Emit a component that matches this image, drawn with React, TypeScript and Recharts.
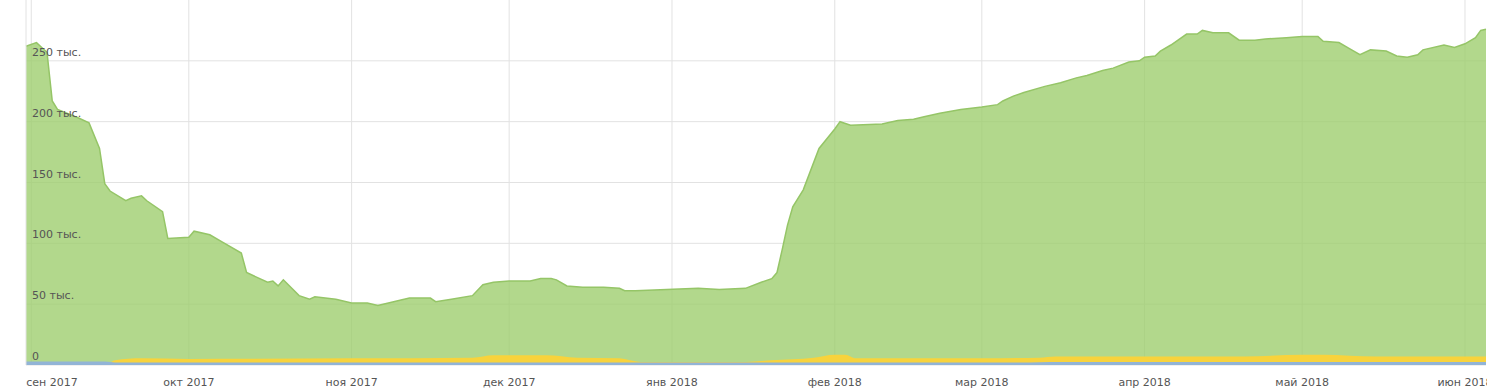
import { AreaChart, Area, XAxis, YAxis, CartesianGrid, ReferenceLine } from 'recharts';

// main series (thousands)
const visitDates = [
  '2017-08-31', '2017-09-02', '2017-09-03', '2017-09-04', '2017-09-05', '2017-09-06', '2017-09-10', '2017-09-12',
  '2017-09-14', '2017-09-15', '2017-09-16', '2017-09-19', '2017-09-20', '2017-09-22', '2017-09-23', '2017-09-26',
  '2017-09-27', '2017-10-01', '2017-10-02', '2017-10-05', '2017-10-07', '2017-10-11', '2017-10-12', '2017-10-16',
  '2017-10-17', '2017-10-18', '2017-10-19', '2017-10-22', '2017-10-24', '2017-10-25', '2017-10-29', '2017-11-01',
  '2017-11-04', '2017-11-06', '2017-11-08', '2017-11-12', '2017-11-16', '2017-11-17', '2017-11-20', '2017-11-24',
  '2017-11-26', '2017-11-28', '2017-12-01', '2017-12-05', '2017-12-07', '2017-12-09', '2017-12-10', '2017-12-12',
  '2017-12-15', '2017-12-19', '2017-12-22', '2017-12-23', '2017-12-25', '2017-12-31', '2018-01-06', '2018-01-10',
  '2018-01-15', '2018-01-18', '2018-01-20', '2018-01-21', '2018-01-22', '2018-01-23', '2018-01-24', '2018-01-26',
  '2018-01-29', '2018-02-01', '2018-02-02', '2018-02-04', '2018-02-10', '2018-02-13', '2018-02-16', '2018-02-18',
  '2018-02-21', '2018-02-25', '2018-03-01', '2018-03-04', '2018-03-05', '2018-03-07', '2018-03-09', '2018-03-13',
  '2018-03-16', '2018-03-19', '2018-03-21', '2018-03-24', '2018-03-26', '2018-03-29', '2018-03-31', '2018-04-01',
  '2018-04-03', '2018-04-04', '2018-04-06', '2018-04-09', '2018-04-11', '2018-04-12', '2018-04-14', '2018-04-17',
  '2018-04-19', '2018-04-22', '2018-04-24', '2018-04-28', '2018-05-01', '2018-05-04', '2018-05-05', '2018-05-08',
  '2018-05-10', '2018-05-12', '2018-05-14', '2018-05-17', '2018-05-19', '2018-05-21', '2018-05-23', '2018-05-24',
  '2018-05-28', '2018-05-30', '2018-06-01', '2018-06-03', '2018-06-04', '2018-06-05',
];
const visitValues = [
  262, 265, 261, 257, 217, 210, 203, 199,
  178, 149, 143, 135, 137, 139, 135, 126,
  104, 105, 110, 107, 102, 92, 76, 68,
  69, 65, 70, 57, 54, 56, 54, 51,
  51, 49, 51, 55, 55, 52, 54, 57,
  66, 68, 69, 69, 71, 71, 70, 65,
  64, 64, 63, 61, 61, 62, 63, 62,
  63, 68, 71, 76, 95, 115, 130, 144,
  178, 194, 200, 197, 198, 201, 202, 204,
  207, 210, 212, 214, 217, 221, 224, 229,
  232, 236, 238, 242, 244, 249, 250, 253,
  254, 258, 263, 272, 272, 275, 273, 273,
  267, 267, 268, 269, 270, 270, 266, 265,
  260, 255, 259, 258, 254, 253, 255, 259,
  263, 261, 264, 269, 275, 276,
];

// yellow band
const yellowDates = [
  '2017-08-31', '2017-09-15', '2017-09-17', '2017-09-22', '2017-10-01', '2017-11-01', '2017-11-24', '2017-11-28',
  '2017-12-08', '2017-12-14', '2017-12-22', '2017-12-26', '2018-01-15', '2018-01-20', '2018-01-28', '2018-02-01',
  '2018-02-03', '2018-02-05', '2018-03-01', '2018-03-12', '2018-03-15', '2018-04-20', '2018-05-01', '2018-05-05',
  '2018-05-15', '2018-06-05',
];
const yellowValues = [
  0, 0, 4, 5.5, 5, 5.5, 6, 8,
  8, 6, 5.5, 2.5, 2.5, 4, 6, 8.5,
  8.5, 5.5, 5.5, 6, 7, 7, 8.5, 8.5,
  7, 7,
];

// blue band
const blueDates = ['2017-08-31', '2017-09-15', '2017-09-17', '2018-03-10', '2018-03-14', '2018-06-05'];
const blueValues = [2.8, 2.8, 2, 2, 2.5, 2.5];

const monthTicks = [
  '2017-09-01', '2017-10-01', '2017-11-01', '2017-12-01', '2018-01-01',
  '2018-02-01', '2018-03-01', '2018-04-01', '2018-05-01', '2018-06-01',
];
const monthLabels = [
  'сен 2017', 'окт 2017', 'ноя 2017', 'дек 2017', 'янв 2018',
  'фев 2018', 'мар 2018', 'апр 2018', 'май 2018', 'июн 2018',
];
const yTicks = [0, 50000, 100000, 150000, 200000, 250000];
const yLabels = ['0', '50 тыс.', '100 тыс.', '150 тыс.', '200 тыс.', '250 тыс.'];

const base = Date.UTC(2017, 7, 31);
const toDay = (s: string) => {
  const [y, m, d] = s.split('-').map(Number);
  return Math.round((Date.UTC(y, m - 1, d) - base) / 86400000);
};

const rows: Record<number, any> = {};
const put = (dates: string[], vals: number[], key: string) => {
  dates.forEach((d, i) => {
    const day = toDay(d);
    if (!rows[day]) rows[day] = { day, visits: null, yellow: null, blue: null };
    rows[day][key] = vals[i] * 1000;
  });
};
put(visitDates, visitValues, 'visits');
put(yellowDates, yellowValues, 'yellow');
put(blueDates, blueValues, 'blue');
const data = Object.values(rows).sort((a, b) => a.day - b.day);

const tickDays = monthTicks.map(toDay);
const font = { fontFamily: '"DejaVu Sans", Verdana, sans-serif', fontSize: 11, fill: '#555' };

const XTick = (props: any) => {
  const { x, y, payload, index } = props;
  const i = tickDays.indexOf(payload.value);
  return (
    <text x={index === 0 ? x - 5 : x} y={y + 19} textAnchor={index === 0 ? 'start' : 'middle'} {...font}>
      {monthLabels[i]}
    </text>
  );
};

export default function App() {
  return (
    <div style={{ position: 'absolute', left: 0, top: 0, width: 1487, height: 388 }}>
      <AreaChart width={1487} height={388} data={data} margin={{ top: 0, right: 1, left: 26, bottom: 0 }}>
        <CartesianGrid stroke="#e2e2e2" horizontalValues={yTicks} verticalValues={tickDays} />
        <XAxis
          dataKey="day"
          type="number"
          domain={['dataMin', 'dataMax']}
          ticks={tickDays}
          tick={<XTick />}
          tickLine={false}
          axisLine={false}
          tickSize={0}
          height={23}
          interval={0}
        />
        <YAxis domain={[0, 300000]} ticks={yTicks} hide width={0} />
        <ReferenceLine x={0} stroke="#e2e2e2" />
        <Area
          type="linear"
          dataKey="visits"
          stroke="#95c567"
          strokeWidth={1.5}
          fill="#9ccd6c"
          fillOpacity={0.78}
          dot={false}
          activeDot={false}
          connectNulls
          isAnimationActive={false}
        />
        <Area
          type="monotone"
          dataKey="yellow"
          stroke="none"
          fill="#f8d33c"
          fillOpacity={1}
          dot={false}
          activeDot={false}
          connectNulls
          isAnimationActive={false}
        />
        <Area
          type="linear"
          dataKey="blue"
          stroke="none"
          fill="#92b4d6"
          fillOpacity={1}
          dot={false}
          activeDot={false}
          connectNulls
          isAnimationActive={false}
        />
        {yTicks.map((v, i) => (
          <ReferenceLine
            key={v}
            y={v}
            stroke="none"
            label={(p: any) => (
              <text x={p.viewBox.x + 6} y={p.viewBox.y - 5} textAnchor="start" {...font}>
                {yLabels[i]}
              </text>
            )}
          />
        ))}
      </AreaChart>
    </div>
  );
}
